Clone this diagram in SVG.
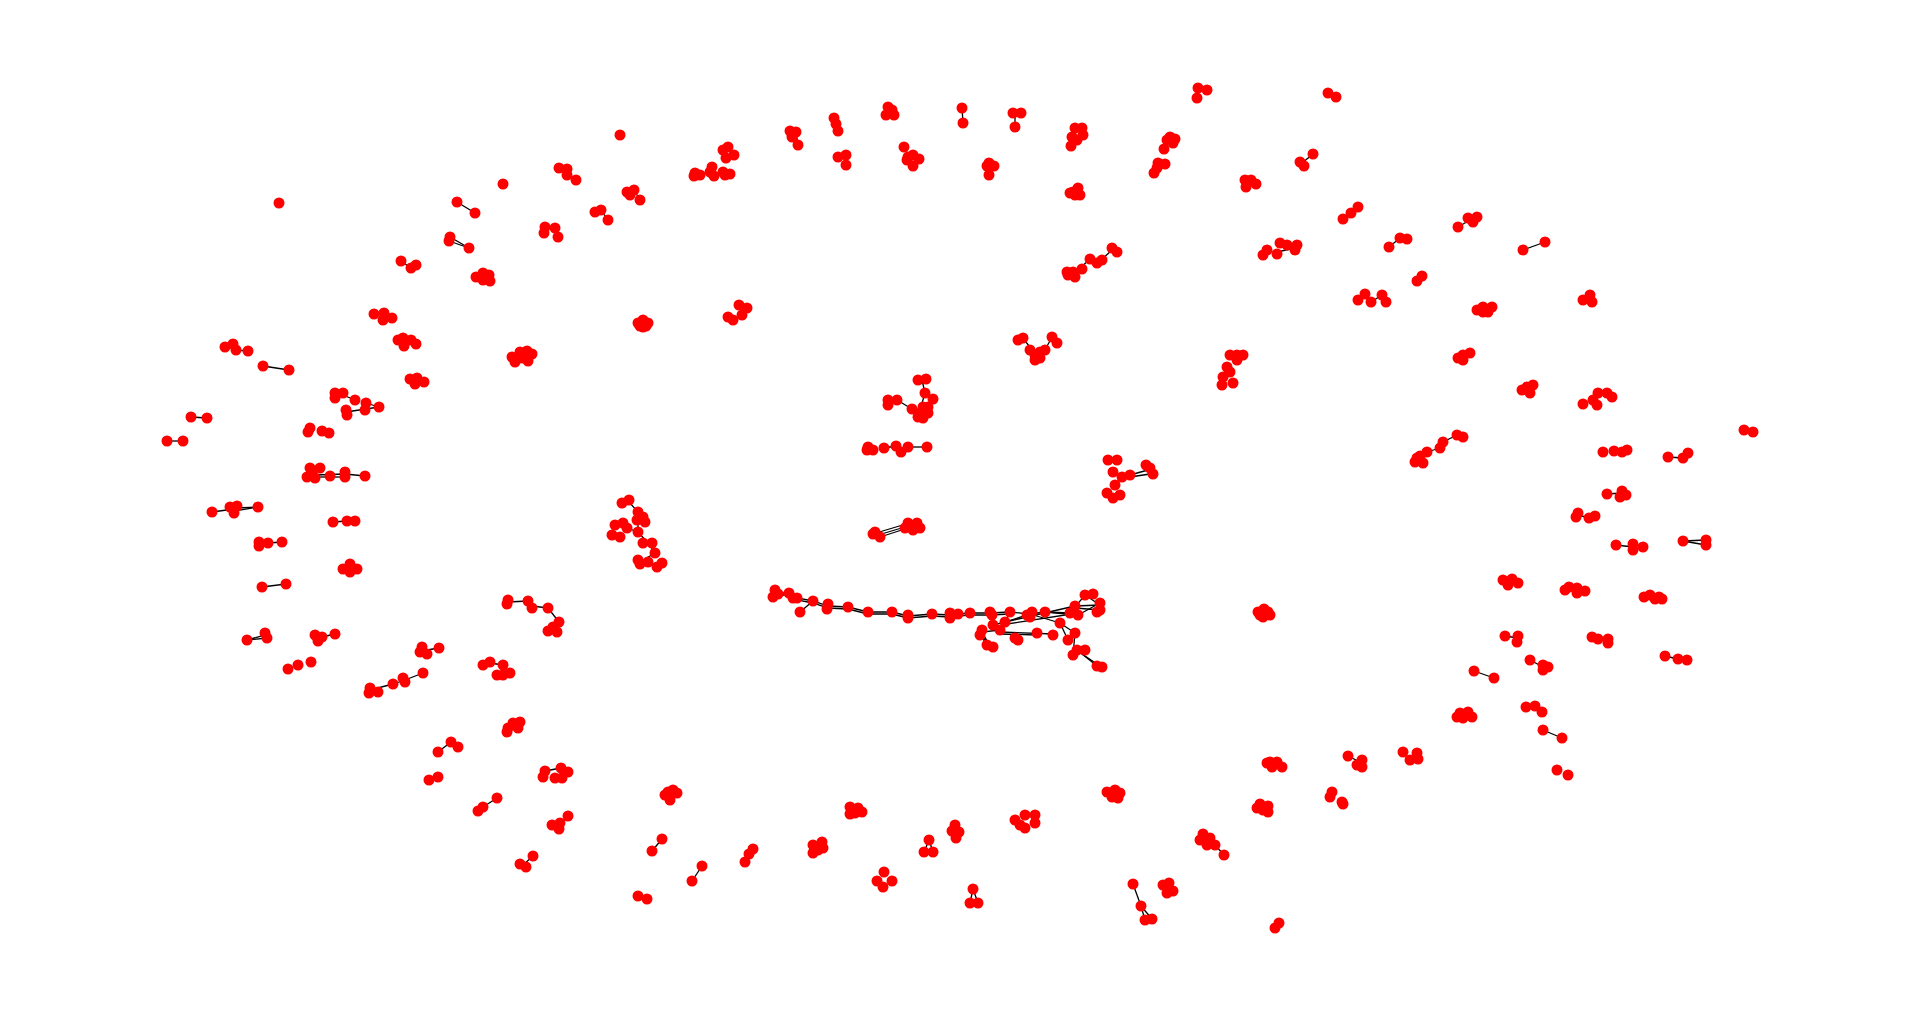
<svg xmlns="http://www.w3.org/2000/svg" width="1920" height="1016" viewBox="0 0 1920 1016">
<style>
.nodes circle{fill:#ff0000;stroke:none}
.edges line,.edges polyline{stroke:#000;stroke-width:1.3;fill:none}
</style>
<rect width="1920" height="1016" fill="#fff"/>
<g class="edges" id="connectors">
<line x1="457" y1="202" x2="475" y2="213"/>
<line x1="450" y1="237" x2="469" y2="248"/><line x1="449" y1="241" x2="469" y2="248"/>
<line x1="401" y1="261" x2="411" y2="268"/>
<line x1="567" y1="175" x2="576" y2="180"/>
<line x1="236" y1="350" x2="248" y2="351"/>
<line x1="601" y1="210" x2="608" y2="220"/>
<line x1="634" y1="190" x2="640" y2="200"/>
<line x1="700" y1="175" x2="712" y2="170"/>
<line x1="796" y1="132" x2="798" y2="145"/>
<line x1="834" y1="118" x2="838" y2="131"/>
<line x1="846" y1="155" x2="846" y2="165"/>
<line x1="962" y1="108" x2="963" y2="123"/>
<line x1="1015" y1="113" x2="1015" y2="127"/>
<line x1="989" y1="163" x2="989" y2="175"/>
<line x1="1023" y1="338" x2="1032" y2="350"/><line x1="1045" y1="350" x2="1052" y2="337"/>
<line x1="1200" y1="88" x2="1197" y2="98"/>
<line x1="1313" y1="154" x2="1302" y2="163"/>
<line x1="1358" y1="207" x2="1343" y2="219"/>
<line x1="1458" y1="227" x2="1470" y2="220"/>
<line x1="1400" y1="238" x2="1389" y2="247"/>
<line x1="1422" y1="276" x2="1417" y2="281"/>
<line x1="1371" y1="302" x2="1382" y2="295"/>
<line x1="1112" y1="250" x2="1100" y2="261"/><line x1="1090" y1="259" x2="1078" y2="270"/>
<line x1="1277" y1="252" x2="1295" y2="248"/>
<line x1="1523" y1="250" x2="1545" y2="242"/>
<line x1="263" y1="366" x2="289" y2="370"/>
<line x1="191" y1="417" x2="207" y2="418"/>
<line x1="167" y1="441" x2="183" y2="441"/>
<line x1="343" y1="395" x2="355" y2="400"/><line x1="346" y1="412" x2="379" y2="407"/><line x1="366" y1="403" x2="379" y2="407"/>
<line x1="315" y1="475" x2="345" y2="474"/><line x1="345" y1="474" x2="365" y2="476"/><line x1="320" y1="477" x2="345" y2="477"/>
<line x1="212" y1="512" x2="234" y2="509"/><line x1="237" y1="508" x2="258" y2="507"/><line x1="234" y1="511" x2="258" y2="507"/>
<line x1="333" y1="522" x2="347" y2="521"/>
<line x1="268" y1="543" x2="282" y2="542"/>
<line x1="262" y1="587" x2="286" y2="584"/>
<line x1="508" y1="602" x2="528" y2="601"/><line x1="532" y1="606" x2="548" y2="608"/><line x1="548" y1="608" x2="559" y2="622"/>
<line x1="247" y1="640" x2="265" y2="635"/><line x1="247" y1="640" x2="267" y2="638"/>
<line x1="322" y1="637" x2="335" y2="634"/>
<line x1="427" y1="650" x2="439" y2="648"/>
<line x1="490" y1="663" x2="503" y2="665"/>
<line x1="897" y1="400" x2="912" y2="409"/><line x1="925" y1="393" x2="920" y2="410"/><line x1="922" y1="380" x2="925" y2="393"/>
<line x1="884" y1="448" x2="896" y2="446"/><line x1="908" y1="447" x2="927" y2="447"/>
<line x1="878" y1="535" x2="905" y2="527"/><line x1="880" y1="537" x2="908" y2="528"/><line x1="876" y1="533" x2="906" y2="524"/>
<line x1="629" y1="502" x2="638" y2="512"/><line x1="638" y1="512" x2="638" y2="532"/><line x1="627" y1="528" x2="638" y2="532"/><line x1="638" y1="532" x2="648" y2="543"/><line x1="648" y1="543" x2="655" y2="553"/><line x1="640" y1="562" x2="655" y2="553"/>
<line x1="1130" y1="475" x2="1148" y2="470"/><line x1="1130" y1="477" x2="1150" y2="474"/><line x1="1122" y1="477" x2="1115" y2="485"/>
<line x1="1457" y1="435" x2="1443" y2="442"/><line x1="1440" y1="448" x2="1427" y2="452"/>
<line x1="1668" y1="457" x2="1683" y2="458"/>
<line x1="1607" y1="494" x2="1622" y2="493"/>
<line x1="1578" y1="515" x2="1589" y2="518"/>
<line x1="1616" y1="545" x2="1633" y2="547"/>
<line x1="1683" y1="541" x2="1706" y2="540"/><line x1="1683" y1="541" x2="1706" y2="545"/>
<line x1="1505" y1="636" x2="1518" y2="638"/>
<line x1="1530" y1="660" x2="1543" y2="667"/>
<line x1="1665" y1="656" x2="1678" y2="659"/>
<line x1="1474" y1="671" x2="1494" y2="678"/>
<line x1="1543" y1="730" x2="1562" y2="738"/>
<line x1="1348" y1="756" x2="1360" y2="762"/>
<line x1="1215" y1="845" x2="1224" y2="855"/>
<line x1="1133" y1="884" x2="1141" y2="906"/><line x1="1141" y1="906" x2="1145" y2="920"/><line x1="1141" y1="906" x2="1152" y2="919"/>
<line x1="745" y1="862" x2="753" y2="849"/>
<line x1="929" y1="840" x2="924" y2="852"/><line x1="929" y1="840" x2="933" y2="852"/>
<line x1="973" y1="889" x2="970" y2="903"/><line x1="973" y1="889" x2="978" y2="903"/>
<line x1="370" y1="690" x2="393" y2="684"/><line x1="393" y1="684" x2="405" y2="680"/><line x1="405" y1="680" x2="423" y2="673"/>
<line x1="438" y1="752" x2="451" y2="742"/>
<line x1="545" y1="771" x2="561" y2="768"/>
<line x1="497" y1="798" x2="483" y2="807"/>
<line x1="568" y1="816" x2="559" y2="826"/>
<line x1="662" y1="839" x2="652" y2="851"/>
<line x1="533" y1="856" x2="523" y2="865"/>
<line x1="692" y1="881" x2="702" y2="866"/>
<polyline points="775,593 789,593 797,598 813,601 828,606 848,607 868,612 892,612 908,616 932,614 950,615 958,614 970,613 990,613 1010,612 1030,614 1045,612 1070,613 1085,595 1100,605"/>
<polyline points="775,595 789,595 797,600 813,603 828,608 848,609 868,614 892,614 908,618 932,616 950,617 958,616 970,615 990,615 1010,614"/>
<line x1="813" y1="601" x2="800" y2="612"/>
<polyline points="1010,612 1005,622 993,625 1000,630 982,632 990,646"/>
<line x1="1000" y1="632" x2="1053" y2="634"/><line x1="1000" y1="634" x2="1037" y2="635"/>
<polyline points="1030,614 1060,623 1075,633 1073,655"/>
<line x1="1060" y1="623" x2="1068" y2="640"/>
<line x1="1045" y1="612" x2="1078" y2="615"/>
<line x1="1075" y1="606" x2="1100" y2="605"/><line x1="1075" y1="608" x2="1100" y2="610"/><line x1="1078" y1="615" x2="1100" y2="603"/>
<line x1="1005" y1="622" x2="1075" y2="606"/><line x1="1007" y1="624" x2="1078" y2="613"/>
<line x1="1005" y1="622" x2="1030" y2="614"/>
<line x1="1077" y1="650" x2="1097" y2="666"/><line x1="1079" y1="652" x2="1100" y2="666"/>
<line x1="982" y1="632" x2="985" y2="645"/><line x1="980" y1="635" x2="993" y2="647"/>
</g>
<g class="nodes">
<g id="c1"><circle cx="279" cy="203" r="5.5"/></g>
<g id="c2"><circle cx="503" cy="184" r="5.5"/></g>
<g id="c3"><circle cx="457" cy="202" r="5.5"/><circle cx="475" cy="213" r="5.5"/></g>
<g id="c4"><circle cx="450" cy="237" r="5.5"/><circle cx="449" cy="241" r="5.5"/><circle cx="469" cy="248" r="5.5"/></g>
<g id="c5"><circle cx="401" cy="261" r="5.5"/><circle cx="411" cy="268" r="5.5"/><circle cx="416" cy="265" r="5.5"/></g>
<g id="c6"><circle cx="476" cy="277" r="5.5"/><circle cx="483" cy="273" r="5.5"/><circle cx="489" cy="275" r="5.5"/><circle cx="490" cy="281" r="5.5"/><circle cx="483" cy="280" r="5.5"/></g>
<g id="c7"><circle cx="559" cy="168" r="5.5"/><circle cx="567" cy="169" r="5.5"/><circle cx="567" cy="175" r="5.5"/><circle cx="576" cy="180" r="5.5"/></g>
<g id="c8"><circle cx="545" cy="227" r="5.5"/><circle cx="555" cy="228" r="5.5"/><circle cx="544" cy="233" r="5.5"/><circle cx="558" cy="237" r="5.5"/></g>
<g id="c9"><circle cx="374" cy="314" r="5.5"/><circle cx="384" cy="313" r="5.5"/><circle cx="383" cy="320" r="5.5"/><circle cx="392" cy="318" r="5.5"/></g>
<g id="c10"><circle cx="398" cy="340" r="5.5"/><circle cx="403" cy="338" r="5.5"/><circle cx="411" cy="340" r="5.5"/><circle cx="404" cy="346" r="5.5"/><circle cx="416" cy="344" r="5.5"/></g>
<g id="c11"><circle cx="225" cy="347" r="5.5"/><circle cx="233" cy="344" r="5.5"/><circle cx="236" cy="350" r="5.5"/><circle cx="248" cy="351" r="5.5"/></g>
<g id="c12"><circle cx="512" cy="357" r="5.5"/><circle cx="520" cy="352" r="5.5"/><circle cx="527" cy="351" r="5.5"/><circle cx="532" cy="354" r="5.5"/><circle cx="515" cy="362" r="5.5"/><circle cx="528" cy="361" r="5.5"/><circle cx="522" cy="358" r="5.5"/></g>
<g id="c13"><circle cx="620" cy="135" r="5.5"/></g>
<g id="c14"><circle cx="595" cy="212" r="5.5"/><circle cx="601" cy="210" r="5.5"/><circle cx="608" cy="220" r="5.5"/></g>
<g id="c15"><circle cx="627" cy="192" r="5.5"/><circle cx="634" cy="190" r="5.5"/><circle cx="630" cy="195" r="5.5"/><circle cx="640" cy="200" r="5.5"/></g>
<g id="c16"><circle cx="695" cy="173" r="5.5"/><circle cx="700" cy="175" r="5.5"/><circle cx="694" cy="176" r="5.5"/><circle cx="712" cy="167" r="5.5"/><circle cx="714" cy="176" r="5.5"/><circle cx="710" cy="172" r="5.5"/><circle cx="723" cy="172" r="5.5"/><circle cx="730" cy="174" r="5.5"/><circle cx="725" cy="175" r="5.5"/></g>
<g id="c17"><circle cx="723" cy="150" r="5.5"/><circle cx="728" cy="147" r="5.5"/><circle cx="734" cy="155" r="5.5"/><circle cx="726" cy="158" r="5.5"/></g>
<g id="c18"><circle cx="790" cy="131" r="5.5"/><circle cx="796" cy="132" r="5.5"/><circle cx="792" cy="137" r="5.5"/><circle cx="798" cy="145" r="5.5"/></g>
<g id="c19"><circle cx="834" cy="118" r="5.5"/><circle cx="836" cy="124" r="5.5"/><circle cx="838" cy="131" r="5.5"/></g>
<g id="c20"><circle cx="838" cy="157" r="5.5"/><circle cx="846" cy="155" r="5.5"/><circle cx="846" cy="165" r="5.5"/></g>
<g id="c21"><circle cx="888" cy="107" r="5.5"/><circle cx="886" cy="115" r="5.5"/><circle cx="894" cy="115" r="5.5"/><circle cx="892" cy="110" r="5.5"/></g>
<g id="c22"><circle cx="904" cy="147" r="5.5"/><circle cx="907" cy="160" r="5.5"/><circle cx="913" cy="155" r="5.5"/><circle cx="919" cy="159" r="5.5"/><circle cx="913" cy="166" r="5.5"/><circle cx="908" cy="157" r="5.5"/></g>
<g id="c23"><circle cx="962" cy="108" r="5.5"/><circle cx="963" cy="123" r="5.5"/></g>
<g id="c24"><circle cx="1013" cy="113" r="5.5"/><circle cx="1021" cy="113" r="5.5"/><circle cx="1015" cy="127" r="5.5"/></g>
<g id="c25"><circle cx="989" cy="163" r="5.5"/><circle cx="994" cy="166" r="5.5"/><circle cx="987" cy="166" r="5.5"/><circle cx="989" cy="175" r="5.5"/></g>
<g id="c26"><circle cx="638" cy="323" r="5.5"/><circle cx="648" cy="323" r="5.5"/><circle cx="643" cy="327" r="5.5"/><circle cx="643" cy="320" r="5.5"/><circle cx="640" cy="326" r="5.5"/><circle cx="646" cy="326" r="5.5"/></g>
<g id="c27"><circle cx="728" cy="317" r="5.5"/><circle cx="733" cy="320" r="5.5"/><circle cx="739" cy="305" r="5.5"/><circle cx="747" cy="308" r="5.5"/><circle cx="742" cy="315" r="5.5"/></g>
<g id="c28"><circle cx="1018" cy="340" r="5.5"/><circle cx="1023" cy="338" r="5.5"/><circle cx="1030" cy="350" r="5.5"/><circle cx="1035" cy="355" r="5.5"/><circle cx="1040" cy="352" r="5.5"/><circle cx="1045" cy="350" r="5.5"/><circle cx="1052" cy="337" r="5.5"/><circle cx="1057" cy="343" r="5.5"/><circle cx="1035" cy="360" r="5.5"/><circle cx="1040" cy="358" r="5.5"/></g>
<g id="c29"><circle cx="1198" cy="88" r="5.5"/><circle cx="1207" cy="90" r="5.5"/><circle cx="1197" cy="98" r="5.5"/></g>
<g id="c30"><circle cx="1328" cy="93" r="5.5"/><circle cx="1336" cy="97" r="5.5"/></g>
<g id="c31"><circle cx="1075" cy="128" r="5.5"/><circle cx="1082" cy="128" r="5.5"/><circle cx="1083" cy="135" r="5.5"/><circle cx="1072" cy="137" r="5.5"/><circle cx="1077" cy="140" r="5.5"/><circle cx="1071" cy="146" r="5.5"/></g>
<g id="c32"><circle cx="1170" cy="137" r="5.5"/><circle cx="1175" cy="139" r="5.5"/><circle cx="1167" cy="140" r="5.5"/><circle cx="1173" cy="143" r="5.5"/><circle cx="1164" cy="149" r="5.5"/><circle cx="1158" cy="163" r="5.5"/><circle cx="1165" cy="164" r="5.5"/><circle cx="1154" cy="173" r="5.5"/><circle cx="1157" cy="168" r="5.5"/></g>
<g id="c33"><circle cx="1073" cy="192" r="5.5"/><circle cx="1078" cy="188" r="5.5"/><circle cx="1080" cy="195" r="5.5"/><circle cx="1070" cy="193" r="5.5"/><circle cx="1075" cy="195" r="5.5"/></g>
<g id="c34"><circle cx="1313" cy="154" r="5.5"/><circle cx="1300" cy="162" r="5.5"/><circle cx="1304" cy="166" r="5.5"/></g>
<g id="c35"><circle cx="1245" cy="180" r="5.5"/><circle cx="1251" cy="180" r="5.5"/><circle cx="1256" cy="184" r="5.5"/><circle cx="1246" cy="187" r="5.5"/></g>
<g id="c36"><circle cx="1358" cy="207" r="5.5"/><circle cx="1351" cy="213" r="5.5"/><circle cx="1343" cy="219" r="5.5"/></g>
<g id="c37"><circle cx="1458" cy="227" r="5.5"/><circle cx="1468" cy="218" r="5.5"/><circle cx="1477" cy="217" r="5.5"/><circle cx="1473" cy="222" r="5.5"/></g>
<g id="c38"><circle cx="1400" cy="238" r="5.5"/><circle cx="1407" cy="239" r="5.5"/><circle cx="1389" cy="247" r="5.5"/></g>
<g id="c39"><circle cx="1422" cy="276" r="5.5"/><circle cx="1417" cy="281" r="5.5"/></g>
<g id="c40"><circle cx="1358" cy="300" r="5.5"/><circle cx="1365" cy="294" r="5.5"/><circle cx="1371" cy="302" r="5.5"/><circle cx="1382" cy="295" r="5.5"/><circle cx="1386" cy="302" r="5.5"/></g>
<g id="c41"><circle cx="1483" cy="307" r="5.5"/><circle cx="1477" cy="310" r="5.5"/><circle cx="1483" cy="312" r="5.5"/><circle cx="1492" cy="307" r="5.5"/><circle cx="1488" cy="312" r="5.5"/></g>
<g id="c42"><circle cx="1112" cy="248" r="5.5"/><circle cx="1117" cy="252" r="5.5"/><circle cx="1102" cy="260" r="5.5"/><circle cx="1097" cy="263" r="5.5"/><circle cx="1090" cy="259" r="5.5"/><circle cx="1082" cy="269" r="5.5"/><circle cx="1073" cy="272" r="5.5"/><circle cx="1067" cy="272" r="5.5"/><circle cx="1075" cy="277" r="5.5"/><circle cx="1068" cy="275" r="5.5"/></g>
<g id="c43"><circle cx="1267" cy="250" r="5.5"/><circle cx="1263" cy="255" r="5.5"/><circle cx="1277" cy="254" r="5.5"/><circle cx="1280" cy="243" r="5.5"/><circle cx="1297" cy="245" r="5.5"/><circle cx="1295" cy="250" r="5.5"/><circle cx="1287" cy="245" r="5.5"/></g>
<g id="c44"><circle cx="1230" cy="355" r="5.5"/><circle cx="1237" cy="355" r="5.5"/><circle cx="1243" cy="355" r="5.5"/><circle cx="1227" cy="367" r="5.5"/><circle cx="1237" cy="360" r="5.5"/><circle cx="1223" cy="377" r="5.5"/><circle cx="1233" cy="383" r="5.5"/><circle cx="1222" cy="385" r="5.5"/><circle cx="1230" cy="372" r="5.5"/></g>
<g id="c45"><circle cx="1463" cy="355" r="5.5"/><circle cx="1470" cy="353" r="5.5"/><circle cx="1463" cy="360" r="5.5"/><circle cx="1458" cy="358" r="5.5"/></g>
<g id="c46"><circle cx="1523" cy="250" r="5.5"/><circle cx="1545" cy="242" r="5.5"/></g>
<g id="c47"><circle cx="1583" cy="300" r="5.5"/><circle cx="1590" cy="295" r="5.5"/><circle cx="1592" cy="302" r="5.5"/></g>
<g id="c48"><circle cx="263" cy="366" r="5.5"/><circle cx="289" cy="370" r="5.5"/></g>
<g id="c49"><circle cx="410" cy="379" r="5.5"/><circle cx="417" cy="378" r="5.5"/><circle cx="415" cy="384" r="5.5"/><circle cx="424" cy="382" r="5.5"/></g>
<g id="c50"><circle cx="191" cy="417" r="5.5"/><circle cx="207" cy="418" r="5.5"/></g>
<g id="c51"><circle cx="167" cy="441" r="5.5"/><circle cx="183" cy="441" r="5.5"/></g>
<g id="c52"><circle cx="335" cy="393" r="5.5"/><circle cx="343" cy="393" r="5.5"/><circle cx="335" cy="398" r="5.5"/><circle cx="355" cy="400" r="5.5"/><circle cx="366" cy="403" r="5.5"/><circle cx="365" cy="410" r="5.5"/><circle cx="379" cy="407" r="5.5"/><circle cx="346" cy="410" r="5.5"/><circle cx="347" cy="415" r="5.5"/></g>
<g id="c53"><circle cx="310" cy="428" r="5.5"/><circle cx="308" cy="432" r="5.5"/><circle cx="322" cy="431" r="5.5"/><circle cx="329" cy="433" r="5.5"/></g>
<g id="c54"><circle cx="310" cy="468" r="5.5"/><circle cx="320" cy="468" r="5.5"/><circle cx="307" cy="477" r="5.5"/><circle cx="315" cy="478" r="5.5"/><circle cx="312" cy="473" r="5.5"/><circle cx="330" cy="476" r="5.5"/><circle cx="345" cy="472" r="5.5"/><circle cx="345" cy="477" r="5.5"/><circle cx="365" cy="476" r="5.5"/></g>
<g id="c55"><circle cx="212" cy="512" r="5.5"/><circle cx="230" cy="507" r="5.5"/><circle cx="237" cy="506" r="5.5"/><circle cx="234" cy="513" r="5.5"/><circle cx="258" cy="507" r="5.5"/></g>
<g id="c56"><circle cx="333" cy="522" r="5.5"/><circle cx="347" cy="521" r="5.5"/><circle cx="355" cy="521" r="5.5"/></g>
<g id="c57"><circle cx="259" cy="542" r="5.5"/><circle cx="259" cy="546" r="5.5"/><circle cx="268" cy="543" r="5.5"/><circle cx="282" cy="542" r="5.5"/></g>
<g id="c58"><circle cx="343" cy="569" r="5.5"/><circle cx="350" cy="564" r="5.5"/><circle cx="357" cy="569" r="5.5"/><circle cx="350" cy="572" r="5.5"/></g>
<g id="c59"><circle cx="262" cy="587" r="5.5"/><circle cx="286" cy="584" r="5.5"/></g>
<g id="c60"><circle cx="508" cy="600" r="5.5"/><circle cx="507" cy="604" r="5.5"/><circle cx="528" cy="601" r="5.5"/><circle cx="532" cy="608" r="5.5"/><circle cx="548" cy="608" r="5.5"/><circle cx="559" cy="622" r="5.5"/><circle cx="548" cy="631" r="5.5"/><circle cx="557" cy="632" r="5.5"/><circle cx="553" cy="627" r="5.5"/></g>
<g id="c61"><circle cx="247" cy="640" r="5.5"/><circle cx="265" cy="633" r="5.5"/><circle cx="267" cy="638" r="5.5"/></g>
<g id="c62"><circle cx="315" cy="635" r="5.5"/><circle cx="318" cy="641" r="5.5"/><circle cx="335" cy="634" r="5.5"/><circle cx="322" cy="637" r="5.5"/></g>
<g id="c63"><circle cx="422" cy="647" r="5.5"/><circle cx="420" cy="652" r="5.5"/><circle cx="427" cy="654" r="5.5"/><circle cx="439" cy="648" r="5.5"/></g>
<g id="c64"><circle cx="288" cy="669" r="5.5"/><circle cx="298" cy="665" r="5.5"/><circle cx="311" cy="662" r="5.5"/></g>
<g id="c65"><circle cx="483" cy="665" r="5.5"/><circle cx="490" cy="662" r="5.5"/><circle cx="503" cy="665" r="5.5"/><circle cx="497" cy="675" r="5.5"/><circle cx="503" cy="675" r="5.5"/><circle cx="510" cy="673" r="5.5"/></g>
<g id="c66"><circle cx="918" cy="380" r="5.5"/><circle cx="926" cy="379" r="5.5"/><circle cx="925" cy="393" r="5.5"/><circle cx="933" cy="399" r="5.5"/><circle cx="888" cy="400" r="5.5"/><circle cx="897" cy="400" r="5.5"/><circle cx="888" cy="405" r="5.5"/><circle cx="912" cy="409" r="5.5"/><circle cx="920" cy="413" r="5.5"/><circle cx="928" cy="413" r="5.5"/><circle cx="923" cy="418" r="5.5"/><circle cx="918" cy="417" r="5.5"/><circle cx="928" cy="407" r="5.5"/><circle cx="923" cy="407" r="5.5"/></g>
<g id="c67"><circle cx="868" cy="447" r="5.5"/><circle cx="873" cy="450" r="5.5"/><circle cx="867" cy="450" r="5.5"/><circle cx="884" cy="448" r="5.5"/><circle cx="896" cy="446" r="5.5"/><circle cx="901" cy="452" r="5.5"/><circle cx="908" cy="447" r="5.5"/><circle cx="927" cy="447" r="5.5"/></g>
<g id="c68"><circle cx="875" cy="532" r="5.5"/><circle cx="880" cy="537" r="5.5"/><circle cx="873" cy="534" r="5.5"/><circle cx="908" cy="523" r="5.5"/><circle cx="917" cy="523" r="5.5"/><circle cx="913" cy="530" r="5.5"/><circle cx="905" cy="528" r="5.5"/><circle cx="920" cy="528" r="5.5"/><circle cx="912" cy="526" r="5.5"/></g>
<g id="c69"><circle cx="622" cy="503" r="5.5"/><circle cx="629" cy="500" r="5.5"/><circle cx="638" cy="512" r="5.5"/><circle cx="643" cy="517" r="5.5"/><circle cx="645" cy="522" r="5.5"/><circle cx="637" cy="520" r="5.5"/><circle cx="615" cy="525" r="5.5"/><circle cx="623" cy="523" r="5.5"/><circle cx="627" cy="528" r="5.5"/><circle cx="612" cy="535" r="5.5"/><circle cx="620" cy="537" r="5.5"/><circle cx="638" cy="532" r="5.5"/><circle cx="643" cy="543" r="5.5"/><circle cx="652" cy="543" r="5.5"/><circle cx="655" cy="553" r="5.5"/><circle cx="638" cy="560" r="5.5"/><circle cx="648" cy="562" r="5.5"/><circle cx="662" cy="563" r="5.5"/><circle cx="657" cy="567" r="5.5"/><circle cx="640" cy="564" r="5.5"/></g>
<g id="c70"><circle cx="775" cy="590" r="5.5"/><circle cx="773" cy="597" r="5.5"/><circle cx="778" cy="594" r="5.5"/><circle cx="789" cy="593" r="5.5"/><circle cx="797" cy="598" r="5.5"/><circle cx="793" cy="598" r="5.5"/><circle cx="813" cy="601" r="5.5"/><circle cx="800" cy="612" r="5.5"/><circle cx="828" cy="604" r="5.5"/><circle cx="827" cy="609" r="5.5"/><circle cx="848" cy="607" r="5.5"/><circle cx="868" cy="612" r="5.5"/><circle cx="892" cy="612" r="5.5"/><circle cx="908" cy="615" r="5.5"/><circle cx="908" cy="618" r="5.5"/><circle cx="932" cy="614" r="5.5"/><circle cx="950" cy="613" r="5.5"/><circle cx="950" cy="618" r="5.5"/><circle cx="958" cy="614" r="5.5"/><circle cx="970" cy="613" r="5.5"/><circle cx="990" cy="612" r="5.5"/><circle cx="992" cy="615" r="5.5"/><circle cx="1010" cy="612" r="5.5"/><circle cx="1005" cy="622" r="5.5"/><circle cx="993" cy="625" r="5.5"/><circle cx="1000" cy="630" r="5.5"/><circle cx="982" cy="630" r="5.5"/><circle cx="980" cy="635" r="5.5"/><circle cx="987" cy="645" r="5.5"/><circle cx="993" cy="647" r="5.5"/><circle cx="1018" cy="640" r="5.5"/><circle cx="1015" cy="638" r="5.5"/><circle cx="1037" cy="633" r="5.5"/><circle cx="1027" cy="615" r="5.5"/><circle cx="1032" cy="612" r="5.5"/><circle cx="1030" cy="617" r="5.5"/><circle cx="1045" cy="612" r="5.5"/><circle cx="1053" cy="635" r="5.5"/><circle cx="1060" cy="623" r="5.5"/><circle cx="1070" cy="613" r="5.5"/><circle cx="1075" cy="606" r="5.5"/><circle cx="1078" cy="615" r="5.5"/><circle cx="1085" cy="595" r="5.5"/><circle cx="1093" cy="594" r="5.5"/><circle cx="1100" cy="603" r="5.5"/><circle cx="1100" cy="610" r="5.5"/><circle cx="1097" cy="612" r="5.5"/><circle cx="1068" cy="640" r="5.5"/><circle cx="1075" cy="633" r="5.5"/><circle cx="1077" cy="650" r="5.5"/><circle cx="1085" cy="650" r="5.5"/><circle cx="1073" cy="655" r="5.5"/><circle cx="1097" cy="666" r="5.5"/><circle cx="1102" cy="667" r="5.5"/></g>
<g id="c71"><circle cx="1108" cy="460" r="5.5"/><circle cx="1117" cy="460" r="5.5"/><circle cx="1113" cy="472" r="5.5"/><circle cx="1122" cy="477" r="5.5"/><circle cx="1130" cy="475" r="5.5"/><circle cx="1115" cy="485" r="5.5"/><circle cx="1107" cy="493" r="5.5"/><circle cx="1113" cy="498" r="5.5"/><circle cx="1120" cy="495" r="5.5"/><circle cx="1146" cy="465" r="5.5"/><circle cx="1153" cy="474" r="5.5"/><circle cx="1150" cy="468" r="5.5"/></g>
<g id="c72"><circle cx="1457" cy="435" r="5.5"/><circle cx="1463" cy="437" r="5.5"/><circle cx="1443" cy="442" r="5.5"/><circle cx="1440" cy="448" r="5.5"/><circle cx="1427" cy="452" r="5.5"/><circle cx="1417" cy="458" r="5.5"/><circle cx="1423" cy="463" r="5.5"/><circle cx="1415" cy="462" r="5.5"/><circle cx="1420" cy="456" r="5.5"/></g>
<g id="c73"><circle cx="1258" cy="612" r="5.5"/><circle cx="1268" cy="612" r="5.5"/><circle cx="1263" cy="617" r="5.5"/><circle cx="1260" cy="615" r="5.5"/><circle cx="1270" cy="615" r="5.5"/><circle cx="1264" cy="609" r="5.5"/></g>
<g id="c74"><circle cx="1527" cy="387" r="5.5"/><circle cx="1533" cy="385" r="5.5"/><circle cx="1522" cy="390" r="5.5"/><circle cx="1530" cy="393" r="5.5"/></g>
<g id="c75"><circle cx="1583" cy="404" r="5.5"/><circle cx="1593" cy="400" r="5.5"/><circle cx="1598" cy="393" r="5.5"/><circle cx="1607" cy="393" r="5.5"/><circle cx="1612" cy="397" r="5.5"/><circle cx="1597" cy="405" r="5.5"/></g>
<g id="c76"><circle cx="1744" cy="430" r="5.5"/><circle cx="1753" cy="432" r="5.5"/></g>
<g id="c77"><circle cx="1603" cy="452" r="5.5"/><circle cx="1614" cy="451" r="5.5"/><circle cx="1622" cy="452" r="5.5"/><circle cx="1627" cy="450" r="5.5"/></g>
<g id="c78"><circle cx="1668" cy="457" r="5.5"/><circle cx="1683" cy="458" r="5.5"/><circle cx="1688" cy="453" r="5.5"/></g>
<g id="c79"><circle cx="1607" cy="494" r="5.5"/><circle cx="1622" cy="491" r="5.5"/><circle cx="1626" cy="495" r="5.5"/><circle cx="1620" cy="497" r="5.5"/></g>
<g id="c80"><circle cx="1576" cy="517" r="5.5"/><circle cx="1578" cy="513" r="5.5"/><circle cx="1589" cy="518" r="5.5"/><circle cx="1595" cy="516" r="5.5"/></g>
<g id="c81"><circle cx="1616" cy="545" r="5.5"/><circle cx="1633" cy="544" r="5.5"/><circle cx="1633" cy="550" r="5.5"/><circle cx="1643" cy="547" r="5.5"/></g>
<g id="c82"><circle cx="1683" cy="541" r="5.5"/><circle cx="1706" cy="540" r="5.5"/><circle cx="1706" cy="545" r="5.5"/></g>
<g id="c83"><circle cx="1503" cy="580" r="5.5"/><circle cx="1512" cy="579" r="5.5"/><circle cx="1518" cy="583" r="5.5"/><circle cx="1508" cy="585" r="5.5"/></g>
<g id="c84"><circle cx="1565" cy="590" r="5.5"/><circle cx="1569" cy="587" r="5.5"/><circle cx="1577" cy="588" r="5.5"/><circle cx="1585" cy="591" r="5.5"/><circle cx="1577" cy="593" r="5.5"/></g>
<g id="c85"><circle cx="1644" cy="597" r="5.5"/><circle cx="1650" cy="595" r="5.5"/><circle cx="1659" cy="597" r="5.5"/><circle cx="1662" cy="599" r="5.5"/><circle cx="1655" cy="599" r="5.5"/></g>
<g id="c86"><circle cx="1505" cy="636" r="5.5"/><circle cx="1518" cy="636" r="5.5"/><circle cx="1517" cy="642" r="5.5"/></g>
<g id="c87"><circle cx="1592" cy="637" r="5.5"/><circle cx="1598" cy="639" r="5.5"/><circle cx="1608" cy="639" r="5.5"/><circle cx="1608" cy="643" r="5.5"/></g>
<g id="c88"><circle cx="1530" cy="660" r="5.5"/><circle cx="1543" cy="665" r="5.5"/><circle cx="1548" cy="667" r="5.5"/><circle cx="1543" cy="670" r="5.5"/></g>
<g id="c89"><circle cx="1665" cy="656" r="5.5"/><circle cx="1678" cy="659" r="5.5"/><circle cx="1687" cy="660" r="5.5"/></g>
<g id="c90"><circle cx="1474" cy="671" r="5.5"/><circle cx="1494" cy="678" r="5.5"/></g>
<g id="c91"><circle cx="1526" cy="707" r="5.5"/><circle cx="1535" cy="706" r="5.5"/><circle cx="1542" cy="712" r="5.5"/></g>
<g id="c92"><circle cx="1460" cy="713" r="5.5"/><circle cx="1468" cy="712" r="5.5"/><circle cx="1472" cy="717" r="5.5"/><circle cx="1463" cy="718" r="5.5"/><circle cx="1457" cy="717" r="5.5"/></g>
<g id="c93"><circle cx="1543" cy="730" r="5.5"/><circle cx="1562" cy="738" r="5.5"/></g>
<g id="c94"><circle cx="1557" cy="770" r="5.5"/><circle cx="1568" cy="775" r="5.5"/></g>
<g id="c95"><circle cx="1403" cy="752" r="5.5"/><circle cx="1410" cy="760" r="5.5"/><circle cx="1417" cy="753" r="5.5"/><circle cx="1418" cy="759" r="5.5"/></g>
<g id="c96"><circle cx="1348" cy="756" r="5.5"/><circle cx="1362" cy="760" r="5.5"/><circle cx="1357" cy="765" r="5.5"/><circle cx="1362" cy="767" r="5.5"/></g>
<g id="c97"><circle cx="1270" cy="762" r="5.5"/><circle cx="1277" cy="762" r="5.5"/><circle cx="1282" cy="767" r="5.5"/><circle cx="1272" cy="767" r="5.5"/><circle cx="1267" cy="763" r="5.5"/></g>
<g id="c98"><circle cx="1332" cy="792" r="5.5"/><circle cx="1330" cy="797" r="5.5"/><circle cx="1342" cy="802" r="5.5"/><circle cx="1343" cy="804" r="5.5"/></g>
<g id="c99"><circle cx="1260" cy="804" r="5.5"/><circle cx="1268" cy="806" r="5.5"/><circle cx="1268" cy="812" r="5.5"/><circle cx="1257" cy="808" r="5.5"/><circle cx="1263" cy="810" r="5.5"/></g>
<g id="c100"><circle cx="1203" cy="834" r="5.5"/><circle cx="1210" cy="838" r="5.5"/><circle cx="1200" cy="840" r="5.5"/><circle cx="1207" cy="845" r="5.5"/><circle cx="1215" cy="845" r="5.5"/><circle cx="1224" cy="855" r="5.5"/></g>
<g id="c101"><circle cx="1163" cy="885" r="5.5"/><circle cx="1169" cy="883" r="5.5"/><circle cx="1173" cy="891" r="5.5"/><circle cx="1167" cy="893" r="5.5"/></g>
<g id="c102"><circle cx="1279" cy="923" r="5.5"/><circle cx="1275" cy="928" r="5.5"/></g>
<g id="c103"><circle cx="1133" cy="884" r="5.5"/><circle cx="1141" cy="906" r="5.5"/><circle cx="1145" cy="920" r="5.5"/><circle cx="1152" cy="919" r="5.5"/></g>
<g id="c104"><circle cx="1107" cy="792" r="5.5"/><circle cx="1115" cy="790" r="5.5"/><circle cx="1120" cy="793" r="5.5"/><circle cx="1112" cy="797" r="5.5"/><circle cx="1118" cy="798" r="5.5"/></g>
<g id="c105"><circle cx="745" cy="862" r="5.5"/><circle cx="749" cy="854" r="5.5"/><circle cx="753" cy="849" r="5.5"/></g>
<g id="c106"><circle cx="813" cy="845" r="5.5"/><circle cx="822" cy="842" r="5.5"/><circle cx="813" cy="853" r="5.5"/><circle cx="823" cy="848" r="5.5"/><circle cx="818" cy="850" r="5.5"/></g>
<g id="c107"><circle cx="850" cy="807" r="5.5"/><circle cx="858" cy="808" r="5.5"/><circle cx="862" cy="812" r="5.5"/><circle cx="850" cy="814" r="5.5"/><circle cx="855" cy="813" r="5.5"/></g>
<g id="c108"><circle cx="884" cy="872" r="5.5"/><circle cx="877" cy="881" r="5.5"/><circle cx="892" cy="881" r="5.5"/><circle cx="883" cy="887" r="5.5"/></g>
<g id="c109"><circle cx="929" cy="840" r="5.5"/><circle cx="924" cy="852" r="5.5"/><circle cx="933" cy="852" r="5.5"/></g>
<g id="c110"><circle cx="955" cy="825" r="5.5"/><circle cx="952" cy="831" r="5.5"/><circle cx="959" cy="832" r="5.5"/><circle cx="956" cy="838" r="5.5"/></g>
<g id="c111"><circle cx="973" cy="889" r="5.5"/><circle cx="970" cy="903" r="5.5"/><circle cx="978" cy="903" r="5.5"/></g>
<g id="c112"><circle cx="1015" cy="820" r="5.5"/><circle cx="1025" cy="815" r="5.5"/><circle cx="1035" cy="815" r="5.5"/><circle cx="1035" cy="823" r="5.5"/><circle cx="1025" cy="828" r="5.5"/><circle cx="1020" cy="825" r="5.5"/></g>
<g id="c113"><circle cx="370" cy="688" r="5.5"/><circle cx="378" cy="692" r="5.5"/><circle cx="369" cy="693" r="5.5"/><circle cx="393" cy="684" r="5.5"/><circle cx="403" cy="678" r="5.5"/><circle cx="405" cy="682" r="5.5"/><circle cx="423" cy="673" r="5.5"/></g>
<g id="c114"><circle cx="508" cy="728" r="5.5"/><circle cx="513" cy="723" r="5.5"/><circle cx="520" cy="722" r="5.5"/><circle cx="518" cy="728" r="5.5"/><circle cx="507" cy="732" r="5.5"/></g>
<g id="c115"><circle cx="438" cy="752" r="5.5"/><circle cx="451" cy="742" r="5.5"/><circle cx="458" cy="747" r="5.5"/></g>
<g id="c116"><circle cx="429" cy="780" r="5.5"/><circle cx="438" cy="777" r="5.5"/></g>
<g id="c117"><circle cx="545" cy="771" r="5.5"/><circle cx="543" cy="777" r="5.5"/><circle cx="561" cy="768" r="5.5"/><circle cx="568" cy="772" r="5.5"/><circle cx="555" cy="778" r="5.5"/><circle cx="562" cy="778" r="5.5"/></g>
<g id="c118"><circle cx="665" cy="795" r="5.5"/><circle cx="677" cy="793" r="5.5"/><circle cx="670" cy="800" r="5.5"/><circle cx="673" cy="790" r="5.5"/><circle cx="668" cy="792" r="5.5"/></g>
<g id="c119"><circle cx="497" cy="798" r="5.5"/><circle cx="483" cy="807" r="5.5"/><circle cx="478" cy="811" r="5.5"/></g>
<g id="c120"><circle cx="568" cy="816" r="5.5"/><circle cx="552" cy="825" r="5.5"/><circle cx="559" cy="829" r="5.5"/><circle cx="560" cy="823" r="5.5"/></g>
<g id="c121"><circle cx="662" cy="839" r="5.5"/><circle cx="652" cy="851" r="5.5"/></g>
<g id="c122"><circle cx="533" cy="856" r="5.5"/><circle cx="520" cy="864" r="5.5"/><circle cx="526" cy="867" r="5.5"/></g>
<g id="c123"><circle cx="692" cy="881" r="5.5"/><circle cx="702" cy="866" r="5.5"/></g>
<g id="c124"><circle cx="638" cy="896" r="5.5"/><circle cx="647" cy="899" r="5.5"/></g>
</g>
</svg>
